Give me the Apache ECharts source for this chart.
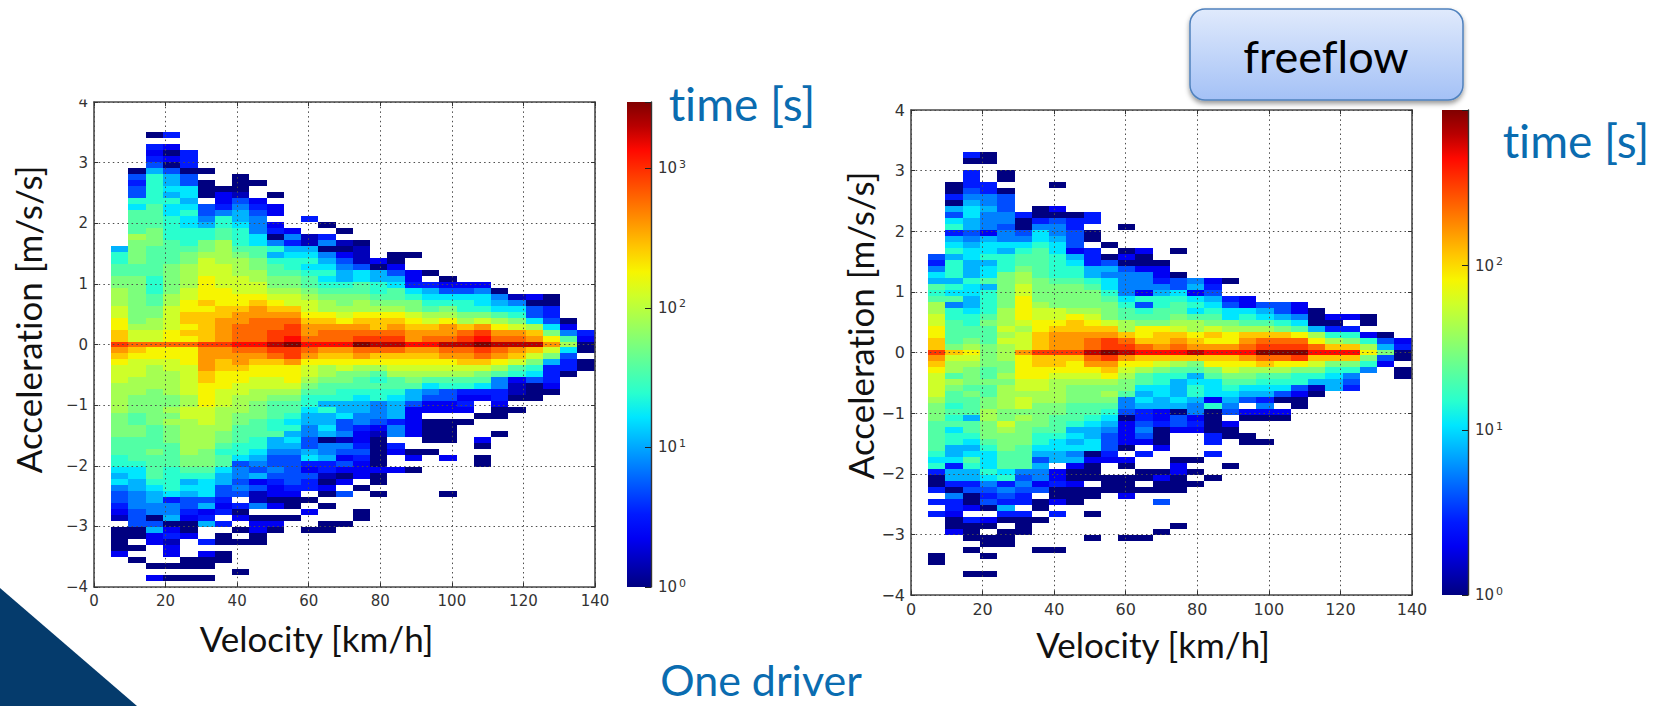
<!DOCTYPE html>
<html>
<head>
<meta charset="utf-8">
<style>html,body{margin:0;padding:0;background:#fff}#chart{width:1657px;height:706px}#chart text{font-variant-ligatures:none}</style>
<script src="https://cdn.jsdelivr.net/npm/echarts@6/dist/echarts.min.js"></script>
</head>
<body>
<div id="chart"></div>
<script>
// Each column (velocity bin) reads "centre row | rows going up from 0 | rows going down from 0".
// Letters are levels of log(time)/log(max time): a = 1 s ... u = max time, in steps of 1/20; "." = no time.
const leftColumns = [
"r|oonnmmlllkkjjiig|ponmmmlllllkkkkjjjiihghfeedcb.aaaac",
"q|mmlkkkkkkkkjjkkkkljjjjhieedea|onmmmlllkkkjjkkjjjjihhggfffeeeaa.a.a",
"q|mmllkkjjiiijjjjjkkkjjjjiiiiigedcd.a|nnmllllkkkkkkjjjjkjjjjihggffaegcc...a.c",
"q|nnmmmmllkkkkkjjjjiiiihhighggeacac.d|nnmmllllkklklkkkjjjjiiiihdffgacdbcc.a.a",
"q|nonoonnmmllllkkjiiihhihghheeaddd|nnnmmmmmllmmllllllkkjighgeedcaac...aa.a",
"r|ooooononnnnmmmlkkiigfee.aaa.a|ppppoonnnnmmmllllkkkjihhhegcdg..d.caa.a",
"r|ppppoonnnmmmmlllljjiifdcca|ppoonnnmmmllllkkjijjhggeedcd.d.aa.aa",
"s|qqqpponnmmmlllkjiiihggfebaaa|qpponnmmlllkkjjjiiheffefe.dac.a.a....a",
"s|qqqqpponmmllkkjjhhfffedc..a|qponnmmllkkkjjjiihgfegcebbf.accaa",
"t|rrqqponmlkkjjigifadc.cc.a|rqonnmmlkjjjiijggfeefedccac.aca",
"u|srrqpommlkkjiihgdfc|rrpnnnmlkjjihighgfeeeeedcaa.a",
"s|qpponmmlkjjihihgbb..d|qpnmmlkjiihggffeeghdcedd.a.c..a",
"s|qqponllkjihihgfafd.a|ponllkjjigigghgaffgddbaca.a..aa",
"s|qqpnmlkkjiggfecab.a|ponmkkjiiggheefbfececac.e....a",
"u|rqponllkjjhhebbba|qpnlkjjihggffdccdedccc.a...aa",
"t|rqoonlkjiiggac|qonljijiifffecbaaaaacaa.a",
"t|rqponlkjjhgecaa|qonmljjihgggdff.dc..c",
"s|pponmkkihdcc..a|ponmlkjggeccccc..ac.a",
"s|qpomljihgd.a|ponmljhfecc.aaaa.a",
"t|qppnlkiheca|qpnmljieecc.aaaa..c.....a",
"t|rqolkiihec|qpomljidcdc.a",
"u|srpmkihhfc|rqomkjhdc..a...ca.aa",
"t|qpnljhgfa|qpnljffddcaa..a",
"t|qpmkihfb|pomjicbba.a",
"t|polheeac|omkiheaaa",
"p|nkheddaa|mkgdddca",
"l|jfca|hedda",
"a|cd|a.aa"
];
const rightColumns = [
"r|oonnmmlljijghfde|ponmmmmlkkkjjjjjihidaad.d.d......aa",
"o|kjjjjiifjhigiiigihgdihegadaa|mlljlkjjijijhiigghdggdafddcaac",
"n|lkjjiihgghhiggghhgfegghhgfeddd.ad|mlkkkjkjjjgjjihghjiggdeaac.daaa.a...a",
"k|kjjjkjiiiigjhhgihhgcfffgffdd...aa|kkjjkjjkkllkkkjihhhihfedea.ca.aa.a..a",
"l|lmlmlllkkkkkkiiighffeffeeea.aa|lkklkllllkkmlkkkjjjhidfedgda.aaa",
"p|mmmlmnnnnmmllkjjihfeaad|nnnnmmlmmklkkkkjjjjfefedd.daaa",
"r|ooonnmmlkkkkjjjjjihhfdaa|oonnmmllkkkkjiihgegffce.aa.a....a",
"r|ppponmmkkkkjiiiihhgffeac...a|oonmllllkkjjjihhgg.ccdaac.d.....a",
"r|pppoonlkkkkjiihgceeedda|onnmlkkkjjjighghfgcaacaaa",
"t|qqponmlkkkjiggddd.aa.dd|qpnmlkkkjjihgghhacaaa.aa..a...a",
"u|rrpomkkkjihhfgea.a|rponlklkjihgfeeedc..aaa",
"t|rqolljjihffffeaca...a|pnmlkkjffeacccca.ca.aaac......a",
"s|qonnkjieicfffcaac|onljjhghgddefec.d..aa.a.......a",
"s|poonkjjiigfdcca|omkiihhggccdaaac...acaa.e....a",
"s|qpomlkjjiheea...a|oljiggghgaeec....accaaa.....a",
"t|ponlljhihcgf|okjghiigffcdc....a.a.a",
"s|pnomkjihgedc|onkjhhhciaaaadd.d...a",
"s|pnnlkhhed..a|onmkjihgfe.caa....a",
"s|qpoljihcc|pnlkjhge.ca..aa",
"u|rqoljhge|qoljihgdfca...a",
"u|rqokigee|qnljihea.ca",
"u|rqnjhfcc|rnkiiecaa",
"s|qnlgaaa|omkigba",
"s|olidac|okihgg",
"s|okid.c|okifed",
"n|lic.aa|kif",
"k|gea|ec",
"a|dc|a.aa"
];
const velocityBinStart = 4.8;
const velocityBinWidth = 4.825;
const accelBinHeight = 8 / 81;
const leftMaxTime = 2980;
const rightMaxTime = 880;
const velocityTicks = [0, 140, 20];
const accelTicks = [-4, 4, 1];
const jet = ['#000080','#0000b9','#0000f3','#001aff','#004dff','#0080ff','#00b3ff','#00e6ff','#29ffce','#52ffa5','#7cff7c','#a5ff52','#ceff29','#f7f500','#ffc700','#ff9700','#ff6800','#ff3900','#ff0900','#b90000','#800000'];
const LEVELS = 'abcdefghijklmnopqrstu';

function cells(columns, maxTime) {
  const logMax = Math.log10(maxTime), out = [];
  const push = (col, k, ch) => {
    const lv = LEVELS.indexOf(ch);
    if (lv < 0) return;
    const lt = lv / 20 * logMax;
    out.push([velocityBinStart + col * velocityBinWidth, velocityBinStart + (col + 1) * velocityBinWidth,
      (k - 0.5) * accelBinHeight, (k + 0.5) * accelBinHeight, Math.pow(10, lt), lt]);
  };
  columns.forEach((s, col) => {
    const [c, up, down] = s.split('|');
    push(col, 0, c);
    [...up].forEach((ch, i) => push(col, i + 1, ch));
    [...down].forEach((ch, i) => push(col, -(i + 1), ch));
  });
  return out;
}

const histItem = (params, api) => {
  const p0 = api.coord([api.value(0), api.value(3)]);
  const p1 = api.coord([api.value(1), api.value(2)]);
  const x = Math.round(p0[0]), y = Math.round(p0[1]);
  return { type: 'rect',
    shape: { x, y, width: Math.round(p1[0]) - x, height: Math.round(p1[1]) - y },
    style: { fill: api.visual('color') } };
};
const barItem = (params, api) => {
  const p0 = api.coord([0, api.value(1)]);
  const p1 = api.coord([1, 0]);
  return { type: 'rect',
    shape: { x: p0[0], y: p0[1], width: p1[0] - p0[0], height: p1[1] - p0[1] },
    style: { fill: new echarts.graphic.LinearGradient(0, 1, 0, 0,
      jet.map((color, i) => ({ offset: i / 20, color }))) } };
};

const sans = 'Lato';
const tickFont = 'DejaVu Sans';
const minus = v => String(v).replace('-', '\u2212');
const spine = { show: true, onZero: false, lineStyle: { color: '#4a4a4a', width: 1.6 } };
const dots = { show: true, lineStyle: { color: '#4d4d4d', type: [1.5, 3.2], width: 1 } };
const inTick = { show: true, inside: true, length: 4, lineStyle: { color: '#333', width: 1 } };

function plotAxes(g, namePadX, namePadY, yGap, xGap, tickSize) {
  const xBase = { gridIndex: g, type: 'value', min: velocityTicks[0], max: velocityTicks[1], interval: velocityTicks[2], z: 3 };
  const yBase = { gridIndex: g, type: 'value', min: accelTicks[0], max: accelTicks[1], interval: accelTicks[2], z: 3 };
  return {
    x: [
      { ...xBase, position: 'bottom', axisLine: spine, axisTick: inTick, splitLine: dots,
        axisLabel: { fontFamily: tickFont, fontSize: tickSize, color: '#333', margin: 6 },
        name: 'Velocity [km/h]', nameLocation: 'middle', nameGap: xGap,
        nameTextStyle: { fontFamily: sans, fontSize: 35, color: '#111', padding: namePadX } },
      { ...xBase, position: 'top', axisLine: spine, axisTick: inTick, splitLine: { show: false }, axisLabel: { show: false } }
    ],
    y: [
      { ...yBase, position: 'left', axisLine: spine, axisTick: inTick, splitLine: dots,
        axisLabel: { fontFamily: tickFont, fontSize: tickSize, color: '#333', margin: 6, formatter: minus },
        name: 'Acceleration [m/s/s]', nameLocation: 'middle', nameRotate: 90, nameGap: yGap,
        nameTextStyle: { fontFamily: sans, fontSize: 35, color: '#111', padding: namePadY } },
      { ...yBase, position: 'right', axisLine: spine, axisTick: inTick, splitLine: { show: false }, axisLabel: { show: false } }
    ]
  };
}
function barAxes(g, logMax) {
  return {
    x: { gridIndex: g, type: 'value', min: 0, max: 1, show: false },
    y: { gridIndex: g, type: 'value', min: 0, max: logMax, interval: 1, position: 'right', z: 3,
      axisLine: { show: true, onZero: false, lineStyle: { color: '#333', width: 1.4 } },
      axisTick: { show: true, inside: true, length: 6, lineStyle: { color: '#222' } },
      splitLine: { show: false },
      axisLabel: { margin: 7, fontFamily: tickFont, fontSize: 15, color: '#333',
        formatter: v => Number.isInteger(v) ? '10{s|' + v + '}' : '',
        rich: { s: { fontFamily: tickFont, fontSize: 11, color: '#333', padding: [0, 0, 8, 2] } } } }
  };
}

const left = plotAxes(0, [0, 56, 0, 0], [0, 0, 0, 50], 48.5, 33, 15);
const right = plotAxes(2, [0, 17, 0, 0], [0, 0, 0, 54], 32, 31, 16);
const leftBar = barAxes(1, Math.log10(leftMaxTime));
const rightBar = barAxes(3, Math.log10(rightMaxTime));
const blue = '#0a6cb0';

const option = {
  animation: false,
  backgroundColor: '#fff',
  grid: [
    { left: 94, top: 102, width: 501, height: 485, outerBoundsMode: 'none' },
    { left: 627, top: 102, width: 24, height: 485, outerBoundsMode: 'none' },
    { left: 911, top: 110, width: 501, height: 485, outerBoundsMode: 'none' },
    { left: 1442, top: 110, width: 26, height: 485, outerBoundsMode: 'none' }
  ],
  xAxis: [left.x[0], left.x[1], leftBar.x, right.x[0], right.x[1], rightBar.x],
  yAxis: [left.y[0], left.y[1], leftBar.y, right.y[0], right.y[1], rightBar.y],
  visualMap: [
    { show: false, seriesIndex: 0, dimension: 5, min: 0, max: Math.log10(leftMaxTime), inRange: { color: jet } },
    { show: false, seriesIndex: 2, dimension: 5, min: 0, max: Math.log10(rightMaxTime), inRange: { color: jet } }
  ],
  series: [
    { type: 'custom', xAxisIndex: 0, yAxisIndex: 0, renderItem: histItem, clip: true,
      encode: { x: [0, 1], y: [2, 3] }, data: cells(leftColumns, leftMaxTime) },
    { type: 'custom', xAxisIndex: 2, yAxisIndex: 2, renderItem: barItem,
      encode: { x: 0, y: 1 }, data: [[0, Math.log10(leftMaxTime)]] },
    { type: 'custom', xAxisIndex: 3, yAxisIndex: 3, renderItem: histItem, clip: true,
      encode: { x: [0, 1], y: [2, 3] }, data: cells(rightColumns, rightMaxTime) },
    { type: 'custom', xAxisIndex: 5, yAxisIndex: 5, renderItem: barItem,
      encode: { x: 0, y: 1 }, data: [[0, Math.log10(rightMaxTime)]] }
  ],
  graphic: [
    { type: 'polygon', z: 0, shape: { points: [[0, 588], [137, 706], [0, 706]] }, style: { fill: '#053b6c' } },
    { type: 'rect', z: 100, shape: { x: 60, y: 84, width: 32, height: 15.5 }, style: { fill: '#fff' } },
    { type: 'rect', z: 90, shape: { x: 1190, y: 9, width: 273, height: 91, r: 15 },
      style: { stroke: '#4f81bd', lineWidth: 1.5,
        fill: new echarts.graphic.LinearGradient(0, 0, 0, 1, [{ offset: 0, color: '#e0eafc' }, { offset: 1, color: '#a4c1f6' }]),
        shadowBlur: 5, shadowOffsetY: 3, shadowColor: 'rgba(0,0,0,0.4)' } },
    { type: 'text', z: 91, style: { x: 1326, y: 56, text: 'freeflow', align: 'center', verticalAlign: 'middle', fontFamily: sans, fontSize: 45, fill: '#000' } },
    { type: 'text', z: 91, style: { x: 742, y: 103, text: 'time [s]', align: 'center', verticalAlign: 'middle', fontFamily: sans, fontSize: 46, fill: blue } },
    { type: 'text', z: 91, style: { x: 1576, y: 140, text: 'time [s]', align: 'center', verticalAlign: 'middle', fontFamily: sans, fontSize: 46, fill: blue } },
    { type: 'text', z: 91, style: { x: 761, y: 679, text: 'One driver', align: 'center', verticalAlign: 'middle', fontFamily: sans, fontSize: 43, fill: blue } }
  ]
};
const chart = echarts.init(document.getElementById('chart'), null, { renderer: 'svg' });
chart.setOption(option);
</script>
</body>
</html>
